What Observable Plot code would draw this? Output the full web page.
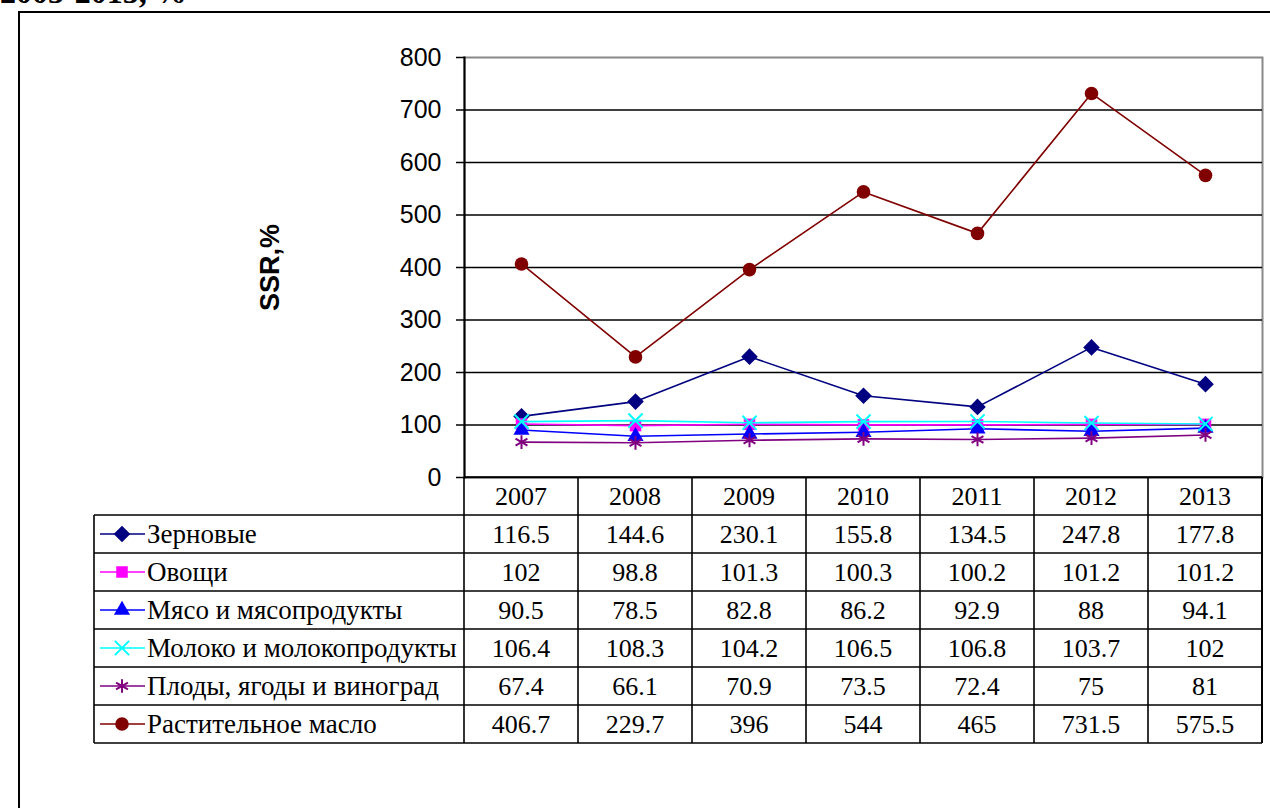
<!DOCTYPE html>
<html><head><meta charset="utf-8">
<script src="https://cdn.jsdelivr.net/npm/d3@7"></script>
<script src="https://cdn.jsdelivr.net/npm/@observablehq/plot@0.6"></script>
<style>
body{margin:0;background:#fff;}
#wrap{position:relative;width:1270px;height:808px;overflow:hidden;font-family:"Liberation Serif","Times New Roman",serif;}
#title{position:absolute;left:0;top:-24px;font:bold 32px "Liberation Serif";line-height:1;white-space:nowrap;}
#frame{position:absolute;left:18px;top:11px;width:1300px;height:900px;border:2px solid #000;}
#chart{position:absolute;left:0;top:0;}
#table{position:absolute;left:0;top:0;}
</style></head>
<body>
<div id="wrap">
  <div id="title">2003-2013, %</div>
  <div id="frame"></div>
  <div id="chart"></div>
  <div id="table"></div>
</div>
<script>
const years = ["2007","2008","2009","2010","2011","2012","2013"];
const zernovye = [116.5,144.6,230.1,155.8,134.5,247.8,177.8];
const ovoshi = [102,98.8,101.3,100.3,100.2,101.2,101.2];
const myaso = [90.5,78.5,82.8,86.2,92.9,88,94.1];
const moloko = [106.4,108.3,104.2,106.5,106.8,103.7,102];
const plody = [67.4,66.1,70.9,73.5,72.4,75,81];
const maslo = [406.7,229.7,396,544,465,731.5,575.5];
const seriesNames = ["Зерновые","Овощи","Мясо и мясопродукты","Молоко и молокопродукты","Плоды, ягоды и виноград","Растительное масло"];
const seriesValues = [zernovye, ovoshi, myaso, moloko, plody, maslo];
const seriesColors = ["#000080","#FF00FF","#0000FF","#00FFFF","#800080","#800000"];
const seriesSymbols = ["diamond2","square","triangle","times","asterisk","circle"];
const seriesFilled = [true,true,true,false,false,true];
const seriesR = [7.5,6.5,6,6.5,6.5,6.8];
const yTicks = [0,100,200,300,400,500,600,700,800];
const yLabel = "SSR,%";

const seriesMarks = seriesNames.flatMap((name, i) => {
  const data = years.map((y, j) => ({year: y, value: seriesValues[i][j]}));
  const dotOpts = {x: "year", y: "value", symbol: seriesSymbols[i], r: seriesR[i]};
  if (seriesFilled[i]) { dotOpts.fill = seriesColors[i]; dotOpts.stroke = "none"; }
  else { dotOpts.stroke = seriesColors[i]; dotOpts.strokeWidth = 2; dotOpts.fill = "none"; }
  return [
    Plot.line(data, {x: "year", y: "value", stroke: seriesColors[i], strokeWidth: 1.6}),
    Plot.dot(data, dotOpts)
  ];
});

const chart = Plot.plot({
  width: 1270, height: 478,
  marginLeft: 464, marginRight: 8, marginTop: 57, marginBottom: 1,
  style: {background: "transparent", overflow: "visible"},
  x: {type: "band", domain: years, padding: 0, axis: null},
  y: {domain: [0, 800], axis: null},
  marks: [
    Plot.frame({stroke: "#888", strokeWidth: 2}),
    Plot.gridY(yTicks.slice(0, -1), {stroke: "#000", strokeOpacity: 1, strokeWidth: 1.6}),
    Plot.frame({anchor: "left", stroke: "#000", strokeWidth: 2}),
    Plot.axisY({ticks: yTicks, tickSize: 8, tickPadding: 15, fontSize: 25, fontFamily: "Liberation Sans, Arial, sans-serif", label: null, stroke: "#000", strokeWidth: 1.5, fill: "#000"}),
    Plot.text([yLabel], {text: d => d, frameAnchor: "left", dx: -194, rotate: -90, textAnchor: "middle", fontSize: 27, fontWeight: "bold", fontFamily: "Liberation Sans, Arial, sans-serif", fill: "#000"}),
    ...seriesMarks
  ]
});
document.getElementById("chart").append(chart);

// Data table below the chart, aligned on the chart's own x scale
const xs = chart.scale("x");
const ys = chart.scale("y");
const bw = xs.bandwidth;
const top0 = ys.apply(0);
const rowH = 38;
const labelLeft = 94;
const plotLeft = xs.apply(years[0]);
const plotRight = xs.apply(years[years.length - 1]) + bw;
const nRows = seriesNames.length;
const tableBottom = top0 + rowH * (nRows + 1);

const svg = d3.select("#table").append("svg").attr("width", 1270).attr("height", 808);
const lineCol = "#000";
svg.append("line").attr("x1", plotLeft).attr("x2", plotRight).attr("y1", top0).attr("y2", top0).attr("stroke", lineCol).attr("stroke-width", 1.6);
for (let r = 1; r <= nRows + 1; r++) {
  const y = top0 + r * rowH;
  svg.append("line").attr("x1", labelLeft).attr("x2", plotRight).attr("y1", y).attr("y2", y).attr("stroke", lineCol).attr("stroke-width", 1.6);
}
svg.append("line").attr("x1", labelLeft).attr("x2", labelLeft).attr("y1", top0 + rowH).attr("y2", tableBottom).attr("stroke", lineCol).attr("stroke-width", 1.6);
years.forEach(y => {
  const x = xs.apply(y);
  svg.append("line").attr("x1", x).attr("x2", x).attr("y1", top0).attr("y2", tableBottom).attr("stroke", lineCol).attr("stroke-width", 1.6);
});
svg.append("line").attr("x1", plotRight).attr("x2", plotRight).attr("y1", top0).attr("y2", tableBottom).attr("stroke", lineCol).attr("stroke-width", 2);

const fontFam = "Liberation Serif, Times New Roman, serif";
const fs = 26;
const fsLabel = 27;
years.forEach(y => {
  svg.append("text").attr("x", xs.apply(y) + bw / 2).attr("y", top0 + rowH / 2).attr("dy", "0.35em")
    .attr("text-anchor", "middle").attr("font-family", fontFam).attr("font-size", fs).text(y);
});
const symMap = {diamond2: d3.symbolDiamond2, square: d3.symbolSquare, triangle: d3.symbolTriangle, times: d3.symbolTimes, asterisk: d3.symbolAsterisk, circle: d3.symbolCircle};
seriesNames.forEach((name, i) => {
  const cy = top0 + (i + 1) * rowH + rowH / 2;
  svg.append("line").attr("x1", 100).attr("x2", 145).attr("y1", cy).attr("y2", cy).attr("stroke", seriesColors[i]).attr("stroke-width", 1.6);
  const p = d3.symbol().type(symMap[seriesSymbols[i]]).size(Math.PI * seriesR[i] * seriesR[i])();
  const s = svg.append("path").attr("d", p).attr("transform", `translate(122,${cy})`);
  if (seriesFilled[i]) s.attr("fill", seriesColors[i]);
  else s.attr("fill", "none").attr("stroke", seriesColors[i]).attr("stroke-width", 2);
  svg.append("text").attr("x", 147).attr("y", cy).attr("dy", "0.35em").attr("font-family", fontFam).attr("font-size", fsLabel).text(name);
  years.forEach((y, j) => {
    svg.append("text").attr("x", xs.apply(y) + bw / 2).attr("y", cy).attr("dy", "0.35em")
      .attr("text-anchor", "middle").attr("font-family", fontFam).attr("font-size", fs).text(String(seriesValues[i][j]));
  });
});
</script>
</body></html>
